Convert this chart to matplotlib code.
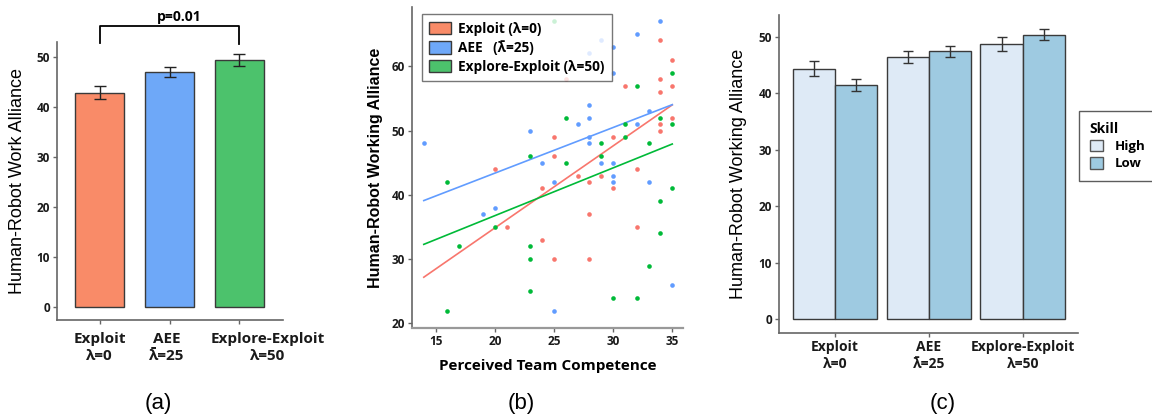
import numpy as np
import matplotlib
matplotlib.use("Agg")
import matplotlib.pyplot as plt
from matplotlib.patches import Patch
from matplotlib.transforms import ScaledTranslation

plt.rcParams['font.family'] = ['Open Sans', 'DejaVu Sans']

# condition names shared by panels (a) and (c)
conditions = ["Exploit\nλ=0", "AEE\nλ\u0304=25", "Explore-Exploit\nλ=50"]

# (a) overall working alliance per condition
alliance_mean = [42.9, 47.0, 49.4]
alliance_err = [1.3, 1.0, 1.2]

# (b) perceived team competence vs working alliance
exploit_x = [34, 35, 26, 34, 31, 35, 34, 35, 34, 34, 25, 30, 25, 20, 32, 27, 29, 28, 24, 30, 28, 21, 32, 24, 25, 28]
exploit_y = [64, 61, 58, 58, 57, 57, 56, 52, 51, 50, 49, 49, 46, 44, 44, 43, 43, 42, 41, 41, 37, 35, 35, 33, 30, 30]
aee_x = [34, 32, 29, 30, 28, 30, 28, 33, 28, 27, 32, 23, 28, 28, 14, 24, 29, 30, 30, 25, 30, 33, 20, 19, 35, 25]
aee_y = [67, 65, 64, 63, 62, 59, 54, 53, 52, 51, 51, 50, 49, 48, 48, 45, 45, 45, 43, 42, 42, 42, 38, 37, 26, 22]
ee_x = [25, 35, 32, 26, 34, 31, 35, 31, 29, 33, 23, 29, 26, 16, 35, 34, 20, 34, 17, 23, 23, 33, 23, 30, 32, 16]
ee_y = [67, 59, 57, 52, 52, 51, 51, 49, 48, 48, 46, 46, 45, 42, 41, 39, 35, 34, 32, 32, 30, 29, 25, 24, 24, 22]
# linear fits per condition (intercept, slope)
fit_intercept = [9.33, 29.17, 21.9]
fit_slope = [1.276, 0.71, 0.743]
fit_range = [14, 35]

# (c) working alliance split by skill level
skill_levels = ["High", "Low"]
high_mean = [44.3, 46.3, 48.6]
high_err = [1.35, 1.05, 1.25]
low_mean = [41.4, 47.4, 50.35]
low_err = [1.1, 0.95, 1.0]

bar_colors = ["#F98B68", "#6EA8F8", "#4CC26C"]
pt_colors = ["#F8766D", "#619CFF", "#00BA38"]
skill_colors = ["#DEEAF6", "#9ECAE1"]
edge = "#3a3a3a"
spine_col = "#666666"
lab_font = ['Liberation Sans', 'DejaVu Sans']

fig = plt.figure(figsize=(11.52, 4.19), dpi=100)


def style_axes(ax):
    for s in ["top", "right"]:
        ax.spines[s].set_visible(False)
    for s in ["left", "bottom"]:
        ax.spines[s].set_color(spine_col)
        ax.spines[s].set_linewidth(1.2)
    ax.tick_params(length=3, width=1, color=spine_col, labelcolor="#1a1a1a", pad=2)


def nudge(label, dx_px):
    label.set_transform(label.get_transform() +
                        ScaledTranslation(dx_px / fig.dpi, 0, fig.dpi_scale_trans))


# ---- (a) ----
ax1 = fig.add_axes([0.0495, 0.2363, 0.196, 0.6635])
xa = np.arange(len(conditions))
ax1.bar(xa, alliance_mean, width=0.7, color=bar_colors, edgecolor=edge, linewidth=1)
ax1.errorbar(xa, alliance_mean, yerr=alliance_err, fmt="none", ecolor="#222222",
             elinewidth=1, capsize=4)
ax1.set_xlim(-0.61, 2.62)
ax1.set_ylim(-2.6, 53.1)
ax1.set_yticks([0, 10, 20, 30, 40, 50])
ax1.set_xticks(xa)
style_axes(ax1)
ax1.set_xticklabels(conditions, fontsize=11, fontweight="bold", linespacing=1.25)
ax1.tick_params(axis="x", pad=6)
nudge(ax1.get_xticklabels()[1], -3)
nudge(ax1.get_xticklabels()[2], 28)
for t in ax1.get_yticklabels():
    t.set_fontsize(8.5)
    t.set_fontweight("bold")
ax1.set_ylabel("Human-Robot Work Alliance", fontsize=13, family=lab_font, labelpad=8)
# significance bracket between Exploit and Explore-Exploit
ax1.plot([0, 0, 2, 2], [52.9, 56.3, 56.3, 52.7], color="black", lw=1.3, clip_on=False)
ax1.text(1.14, 56.7, "p=0.01", ha="center", va="bottom", fontsize=10, fontweight="bold")

# ---- (b) ----
ax2 = fig.add_axes([0.3576, 0.2172, 0.2352, 0.766])
groups = [(exploit_x, exploit_y), (aee_x, aee_y), (ee_x, ee_y)]
xs_line = np.array(fit_range)
for (gx, gy), c, b, k in zip(groups, pt_colors, fit_intercept, fit_slope):
    ax2.scatter(gx, gy, s=11, color=c, linewidths=0, zorder=3)
    ax2.plot(xs_line, b + k * xs_line, color=c, lw=1.2, zorder=2)
ax2.set_xlim(13.0, 35.9)
ax2.set_ylim(19.3, 69.2)
ax2.set_xticks([15, 20, 25, 30, 35])
ax2.set_yticks([20, 30, 40, 50, 60])
for t in ax2.get_xticklabels() + ax2.get_yticklabels():
    t.set_fontsize(8.5)
    t.set_fontweight("bold")
style_axes(ax2)
ax2.spines["bottom"].set_color("#999999")
ax2.spines["bottom"].set_linewidth(1.6)
ax2.set_xlabel("Perceived Team Competence", fontsize=11, fontweight="bold", labelpad=8)
ax2.set_ylabel("Human-Robot Working Alliance", fontsize=11.5, family=lab_font,
               fontweight="bold", labelpad=6)
leg_b = [Patch(facecolor=c, edgecolor=edge, linewidth=1) for c in bar_colors]
ax2.legend(leg_b, ["Exploit (λ=0)", "AEE   (λ\u0304=25)", "Explore-Exploit (λ=50)"],
           loc="upper left", bbox_to_anchor=(0.036, 0.978), borderaxespad=0,
           frameon=True, fancybox=False, edgecolor="#555555",
           prop={"weight": "bold", "size": 9.8},
           handlelength=1.6, handleheight=1.0, labelspacing=0.35, borderpad=0.55,
           handletextpad=0.5)

# ---- (c) ----
ax3 = fig.add_axes([0.676, 0.2053, 0.2598, 0.7589])
xc = np.arange(len(conditions))
w = 0.45
ax3.bar(xc - w / 2, high_mean, width=w, color=skill_colors[0], edgecolor=edge, linewidth=1)
ax3.bar(xc + w / 2, low_mean, width=w, color=skill_colors[1], edgecolor=edge, linewidth=1)
ax3.errorbar(xc - w / 2, high_mean, yerr=high_err, fmt="none", ecolor="#333333",
             elinewidth=1, capsize=3.5)
ax3.errorbar(xc + w / 2, low_mean, yerr=low_err, fmt="none", ecolor="#333333",
             elinewidth=1, capsize=3.5)
ax3.set_xlim(-0.6, 2.59)
ax3.set_ylim(-2.4, 53.8)
ax3.set_yticks([0, 10, 20, 30, 40, 50])
ax3.set_xticks(xc)
ax3.set_xticklabels(conditions, fontsize=10, fontweight="bold", linespacing=1.3)
nudge(ax3.get_xticklabels()[1], -4)
nudge(ax3.get_xticklabels()[2], 6)
for t in ax3.get_yticklabels():
    t.set_fontsize(8.5)
    t.set_fontweight("bold")
style_axes(ax3)
ax3.set_ylabel("Human-Robot Working Alliance", fontsize=13, family=lab_font, labelpad=8)
leg_c = [Patch(facecolor=c, edgecolor="#555555", linewidth=1) for c in skill_colors]
fig.legend(leg_c, skill_levels, title="Skill", loc="upper left",
           bbox_to_anchor=(0.9366, 0.735), borderaxespad=0, frameon=True, fancybox=False,
           edgecolor="#333333", prop={"weight": "bold", "size": 9.5},
           title_fontproperties={"weight": "bold", "size": 10},
           handlelength=1.0, handleheight=1.0, labelspacing=0.3, borderpad=0.8,
           handletextpad=0.9, alignment="left")

# panel letters
for x, s in [(0.1372, "(a)"), (0.4529, "(b)"), (0.8186, "(c)")]:
    fig.text(x, 0.038, s, ha="center", va="center", fontsize=16, family=lab_font)

fig.savefig("out.png", dpi=100)
